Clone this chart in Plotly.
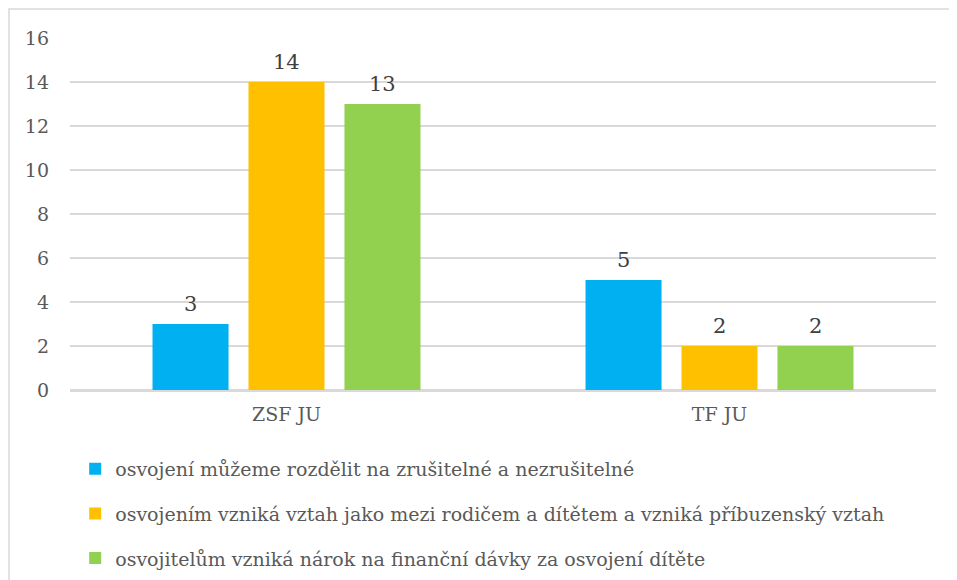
import plotly.graph_objects as go

categories = ["ZSF JU", "TF JU"]
series_names = [
    "osvojení můžeme rozdělit na zrušitelné a nezrušitelné",
    "osvojením vzniká vztah jako mezi rodičem a dítětem a vzniká příbuzenský vztah",
    "osvojitelům vzniká nárok na finanční dávky za osvojení dítěte",
]
series_values = [
    [3, 5],
    [14, 2],
    [13, 2],
]
colors = ["#00B0F0", "#FFC000", "#92D050"]
y_ticks = [0, 2, 4, 6, 8, 10, 12, 14, 16]

FONT = "DejaVu Serif"

fig = go.Figure()
for i, (name, vals) in enumerate(zip(series_names, series_values)):
    fig.add_trace(go.Bar(
        x=categories, y=vals, name=name,
        marker=dict(color=colors[i], line=dict(width=0)),
        legendgroup=f"g{i}",
    ))

PW, PH = 866, 352
SLOT = PW / len(categories) * (1 - 0.335) / len(series_names)
annotations = []
for i, vals in enumerate(series_values):
    for c, v in zip(categories, vals):
        annotations.append(dict(
            x=c, y=v, xref="x", yref="y", text=str(v), showarrow=False,
            xshift=(i - (len(series_names) - 1) / 2) * SLOT,
            yanchor="bottom", yshift=6,
            font=dict(family=FONT, size=21, color="#404040"),
        ))

fig.update_layout(
    width=957, height=580,
    margin=dict(l=62, r=29, t=30, b=198, autoexpand=False),
    paper_bgcolor="white", plot_bgcolor="white",
    barmode="group", bargap=0.335, bargroupgap=0.208,
    font=dict(family=FONT, size=19, color="#595959"),
    showlegend=True,
    legend=dict(
        orientation="v", x=0.006, xanchor="left", y=-0.17, yanchor="top",
        traceorder="grouped", tracegroupgap=17,
        font=dict(family=FONT, size=19, color="#595959"),
        itemwidth=30, bgcolor="rgba(0,0,0,0)",
    ),
    xaxis=dict(showline=True, linecolor="#d9d9d9", linewidth=1.5, automargin=False,
               ticks="", ticklabelstandoff=6,
               tickfont=dict(family=FONT, size=19, color="#595959")),
    yaxis=dict(range=[0, 16], tickvals=y_ticks, showgrid=True, automargin=False,
               gridcolor="#d9d9d9", gridwidth=1.5, zeroline=True,
               zerolinecolor="#d9d9d9", zerolinewidth=1.5, showline=False,
               ticks="", ticklabelstandoff=20,
               tickfont=dict(family=FONT, size=19, color="#595959")),
    annotations=annotations,
    shapes=[dict(type="rect", xref="paper", yref="paper",
                 x0=(1 - 62) / PW, x1=(960 - 62) / PW,
                 y0=-(590 - 382) / PH, y1=1 + (30 - 1) / PH,
                 line=dict(color="#d9d9d9", width=1.5), layer="below")],
)

fig.write_html("out.html")
